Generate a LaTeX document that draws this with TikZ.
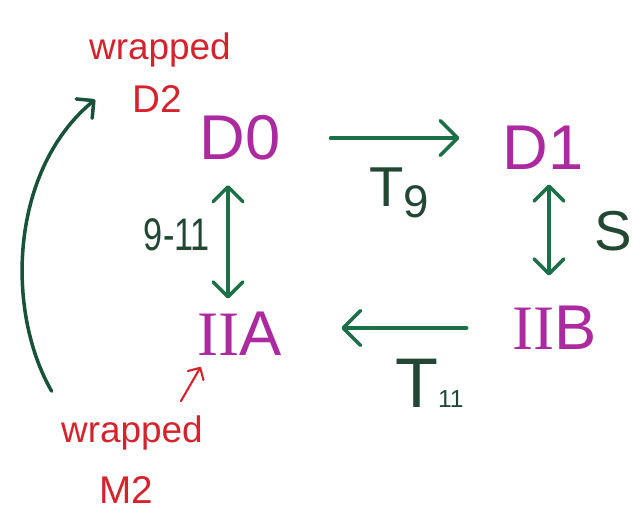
\documentclass[tikz,border=0pt]{standalone}
\usepackage{fontspec}
\setmainfont{Liberation Sans}
\newfontfamily\romnum{Liberation Serif}
\usepackage{tikz}
\usetikzlibrary{arrows.meta}
\usetikzlibrary{positioning}
\usepackage{xcolor}

\definecolor{statecol}{RGB}{172,42,160}
\definecolor{arrcol}{RGB}{28,112,72}
\definecolor{curvecol}{RGB}{24,82,56}
\definecolor{labcol}{RGB}{34,72,52}
\definecolor{notecol}{RGB}{214,34,44}

\tikzset{
    state/.style={inner sep=1pt, text=statecol, font=\fontsize{36}{40}\selectfont},
    note/.style={inner sep=1pt, text=notecol, font=\fontsize{21}{24}\selectfont},
    lab/.style={inner sep=1pt, text=labcol},
    link/.style={draw=arrcol, line width=2pt, line cap=round,
        -{Straight Barb[length=3.5mm, width=7mm, round]}},
    dlink/.style={draw=arrcol, line width=2pt, line cap=round,
        {Straight Barb[length=3mm, width=6mm, round]}-{Straight Barb[length=3mm, width=6mm, round]}},
    bendlink/.style={draw=curvecol, line width=2pt, line cap=round,
        -{Straight Barb[length=2.5mm, width=5mm, round]}},
    notelink/.style={draw=notecol, line width=1.2pt, line cap=round,
        -{Straight Barb[length=1.8mm, width=3.6mm, round]}}
}

\begin{document}
\begin{tikzpicture}
    \useasboundingbox (0,0) rectangle (12.66,10.18);

    % Estados
    \node[state] (d0) at (4.8,7.42) {D0};
    \node[state] (d1) at (10.86,7.22) {D1};
    \node[state] (iia) at (4.8,3.5) {{\romnum II}A};
    \node[state] (iib) at (11.1,3.62) {{\romnum II}B};

    % Notas en rojo
    \node[note, anchor=base] (wrd) at (3.2,8.98) {wrapped};
    \node[note, anchor=base, font=\fontsize{22}{24}\selectfont] (d2) at (3.14,7.92) {D2};
    \node[note, anchor=base] (wrm) at (2.64,1.32) {wrapped};
    \node[note, anchor=base, font=\fontsize{22}{24}\selectfont] (m2) at (2.52,0.12) {M2};

    % Etiquetas de las flechas
    \node[lab, anchor=base west, font=\fontsize{32}{36}\selectfont] (t9) at (7.34,6.04) {T\raisebox{-6pt}{\fontsize{26}{28}\selectfont 9}};
    \node[lab, anchor=base west, font=\fontsize{40}{44}\selectfont] (t11) at (7.86,2.04) {T{\fontsize{14}{16}\selectfont 11}};
    \node[lab, font=\fontsize{26}{30}\selectfont] (nine) at (3.54,5.48) {\scalebox{0.75}[1]{9-11}};
    \node[lab, font=\fontsize{32}{36}\selectfont] (s) at (12.26,5.56) {S};

    % Flechas
    \draw[link, shorten <=0.96cm, shorten >=0.82cm] (d0.east) -- (d0.east -| d1.west);
    \draw[link, shorten <=0.88cm, shorten >=1.14cm] (iib.west) -- (iib.west -| iia.east);
    \draw[dlink, shorten <=0.45cm, shorten >=0.23cm] ([xshift=-0.24cm]d0.south) -- ([xshift=-0.24cm]iia.north);
    \draw[dlink, shorten <=0.25cm, shorten >=0.57cm] ([xshift=0.12cm]d1.south) -- ([xshift=0.12cm]d1.south |- iib.north);
    \draw[bendlink] ([shift={(-0.15,0.46)}]wrm.north west) .. controls (0.1,3.98) and (0.2,6.78) .. ([xshift=-0.7cm]d2.west);
    \draw[notelink] ([shift={(-0.48,0.26)}]wrm.north east) -- ([shift={(0.1,-0.18)}]iia.south west);

\end{tikzpicture}
\end{document}
